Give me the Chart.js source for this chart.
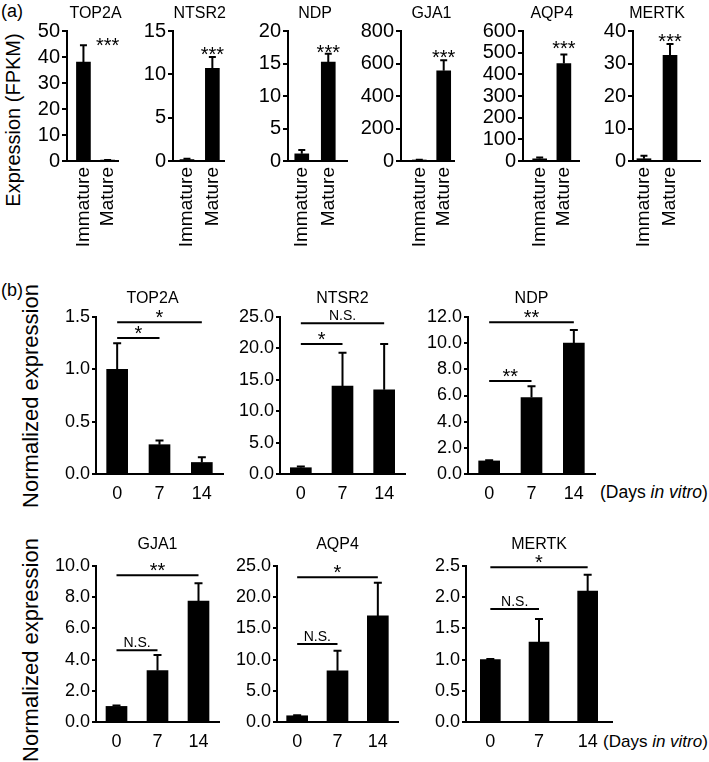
<!DOCTYPE html>
<html>
<head>
<meta charset="utf-8">
<script src="https://cdn.jsdelivr.net/npm/chart.js@4.4.1/dist/chart.umd.min.js"></script>
<style>
html,body{margin:0;padding:0;background:#fff;}
body{position:relative;width:709px;height:762px;overflow:hidden;font-family:"Liberation Sans",Arial,Helvetica,sans-serif;color:#000;}
canvas{position:absolute;}
.t{position:absolute;white-space:nowrap;line-height:1;color:#000;}
.r{transform:translate(-50%,-50%) rotate(-90deg);}
</style>
</head>
<body>
<div class="t" style="left:1px;top:2px;font-size:18px">(a)</div>
<div class="t" style="left:1px;top:281px;font-size:18px">(b)</div>
<div class="t r" style="left:13px;top:120px;font-size:20px">Expression (FPKM)</div>
<div class="t r" style="left:31px;top:396px;font-size:22px">Normalized expression</div>
<div class="t r" style="left:31px;top:650px;font-size:22px">Normalized expression</div>
<div class="t" style="left:600px;top:484px;font-size:17.5px">(Days <i>in vitro</i>)</div>
<div class="t" style="left:603px;top:733px;font-size:17px">(Days <i>in vitro</i>)</div>
<script>
// ---------- Panel (a): expression (FPKM) ----------
const aGenes  = ['TOP2A', 'NTSR2', 'NDP', 'GJA1', 'AQP4', 'MERTK'];
const aGroups = ['Immature', 'Mature'];
const aMeans  = [[38.0, 0.3], [0.15, 10.7], [1.1, 15.2], [5, 555], [10, 450], [0.7, 32.5]];
const aErrs   = [[6.5, 0.1], [0.1, 1.3], [0.6, 1.3], [3, 65], [6, 42], [0.9, 3.5]];
const aYMax   = [50, 15, 20, 800, 600, 40];
const aYStep  = [10, 5, 5, 200, 100, 10];
const aStarY  = [46.5, 12.9, 17.4, 665, 540, 38.2];
const aStarText = ['***', '***', '***', '***', '***', '***'];

// ---------- Panel (b): normalized expression ----------
const bGenes = ['TOP2A', 'NTSR2', 'NDP', 'GJA1', 'AQP4', 'MERTK'];
const bDays  = ['0', '7', '14'];
const bMeans = [[1.0, 0.28, 0.11], [1.0, 14.0, 13.4], [1.0, 5.85, 10.0], [1.0, 3.3, 7.75], [1.0, 8.2, 17.0], [1.0, 1.28, 2.1]];
const bErrs  = [[0.25, 0.04, 0.05], [0.2, 5.3, 7.3], [0.05, 0.85, 1.0], [0.05, 1.0, 1.15], [0.1, 3.2, 5.3], [0.01, 0.37, 0.26]];
const bYMax  = [1.5, 25, 12, 10, 25, 2.5];
const bYStep = [0.5, 5, 2, 2, 5, 0.5];
// [from, to, height, label]
const bSig = [
  [[0, 1, 1.30, '*'], [0, 2, 1.45, '*']],
  [[0, 1, 20.7, '*'], [0, 2, 24.0, 'N.S.']],
  [[0, 1, 7.1, '**'], [0, 2, 11.6, '**']],
  [[0, 1, 4.6, 'N.S.'], [0, 2, 9.4, '**']],
  [[0, 1, 12.5, 'N.S.'], [0, 2, 23.2, '*']],
  [[0, 1, 1.81, 'N.S.'], [0, 2, 2.48, '*']]
];

// ---------- layout ----------
const FAM = '"Liberation Sans", Arial, Helvetica, sans-serif';
const aFrame  = [[67, 127], [173, 232], [288, 349], [401, 463], [523, 584], [633, 700]];
const aXRange = [[-0.68, 1.46], [-0.55, 1.48], [-0.52, 1.74], [-0.75, 1.46], [-0.69, 1.65], [-0.42, 2.15]];
const bFrame  = [[96, 223], [280, 405], [468, 595], [96, 219], [277, 398], [466, 612]];
const bRows   = [[317, 474], [317, 474], [317, 474], [566, 722], [566, 722], [566, 722]];
const bTitleGap = [18, 18, 18, 21, 21, 21];
const bTitleDx  = [-7, 0, 0, 0, 0, 0];

function makeExtras(p) {
  return {
    id: 'extras',
    afterDatasetsDraw(chart) {
      const ctx = chart.ctx, area = chart.chartArea, ys = chart.scales.y;
      const bars = chart.getDatasetMeta(0).data;
      ctx.save();
      ctx.strokeStyle = '#000'; ctx.fillStyle = '#000'; ctx.lineCap = 'butt';
      ctx.lineWidth = p.errW;
      p.means.forEach((m, i) => {
        const px = bars[i].x, y0 = ys.getPixelForValue(m), y1 = ys.getPixelForValue(m + p.errs[i]);
        ctx.beginPath();
        ctx.moveTo(px, y0); ctx.lineTo(px, y1);
        ctx.moveTo(px - p.cap / 2, y1); ctx.lineTo(px + p.cap / 2, y1);
        ctx.stroke();
      });
      ctx.textAlign = 'center';
      ctx.font = p.titleSize + 'px ' + FAM; ctx.textBaseline = 'middle';
      const mid = (bars[0].x + bars[bars.length - 1].x) / 2 + (p.titleDx || 0);
      ctx.fillText(p.title, mid, area.top - p.titleGap);
      if (p.star != null) {
        ctx.font = p.starSize + 'px ' + FAM; ctx.textBaseline = 'alphabetic';
        ctx.fillText(p.starText, bars[1].x, ys.getPixelForValue(p.star) + p.starSize * 0.57);
      }
      (p.sig || []).forEach(s => {
        const x0 = bars[s[0]].x, x1 = bars[s[1]].x, py = ys.getPixelForValue(s[2]);
        ctx.lineWidth = 2;
        ctx.beginPath(); ctx.moveTo(x0, py); ctx.lineTo(x1, py); ctx.stroke();
        const isStar = s[3].indexOf('*') >= 0;
        ctx.font = (isStar ? p.starSize : p.nsSize) + 'px ' + FAM;
        ctx.textBaseline = 'alphabetic';
        ctx.fillText(s[3], (x0 + x1) / 2, isStar ? py + 2 : py - 3);
      });
      ctx.restore();
    }
  };
}

function makeChart(p) {
  const W = p.yW + (p.R - p.L) + p.padR;
  const H = p.padT + (p.bottom - p.top) + p.xH;
  const cv = document.createElement('canvas');
  cv.width = W; cv.height = H;
  cv.style.left = (p.L - p.yW) + 'px'; cv.style.top = (p.top - p.padT) + 'px';
  cv.style.width = W + 'px'; cv.style.height = H + 'px';
  document.body.appendChild(cv);
  const linear = !!p.xRange;
  const data = linear ? p.means.map((v, i) => ({ x: i, y: v })) : p.means.slice();
  const xScale = linear ? {
    type: 'linear', min: p.xRange[0], max: p.xRange[1], offset: false,
    afterBuildTicks(s) { s.ticks = p.cats.map((c, i) => ({ value: i })); },
    ticks: { autoSkip: false, minRotation: 90, maxRotation: 90, padding: p.xPad, color: '#000',
             font: { family: FAM, size: p.xFont }, callback: (v) => p.cats[v] }
  } : {
    type: 'category', offset: true,
    ticks: { autoSkip: false, minRotation: 0, maxRotation: 0, padding: p.xPad, color: '#000',
             font: { family: FAM, size: p.xFont } }
  };
  Object.assign(xScale, {
    grid: { display: false, drawTicks: false, offset: !linear },
    border: { display: true, color: '#000', width: 2 },
    afterFit(s) { s.height = p.xH; }
  });
  new Chart(cv, {
    type: 'bar',
    data: { labels: linear ? [] : p.cats, datasets: [{ data, backgroundColor: '#000', borderWidth: 0, barThickness: p.barW }] },
    options: {
      responsive: false, animation: false, devicePixelRatio: 1,
      layout: { padding: { top: p.padT, right: p.padR, left: 0, bottom: 0 } },
      plugins: { legend: { display: false }, tooltip: { enabled: false }, title: { display: false } },
      scales: {
        x: xScale,
        y: {
          min: 0, max: p.yMax,
          ticks: { stepSize: p.yStep, autoSkip: false, padding: p.yPad, color: '#000', font: { family: FAM, size: p.yFont }, callback: p.fmt },
          grid: { display: true, drawOnChartArea: false, drawTicks: true, tickLength: p.tickLen, color: '#000', lineWidth: 2 },
          border: { display: true, color: '#000', width: 2 },
          afterFit(s) { s.width = p.yW; }
        }
      }
    },
    plugins: [makeExtras(p)]
  });
}

// panel (a)
aGenes.forEach((g, k) => {
  makeChart({
    L: aFrame[k][0], R: aFrame[k][1], top: 31, bottom: 161,
    yW: 52, xH: 98, padT: 31, padR: 12,
    xRange: aXRange[k], cats: aGroups, means: aMeans[k], errs: aErrs[k],
    yMax: aYMax[k], yStep: aYStep[k], fmt: (v) => String(v),
    yFont: 20, yPad: 2, tickLen: 5, xFont: 19, xPad: 6,
    barW: 14, errW: 2, cap: 7,
    title: g, titleSize: 16, titleGap: 17,
    star: aStarY[k], starText: aStarText[k], starSize: 20
  });
});

// panel (b)
bGenes.forEach((g, k) => {
  makeChart({
    L: bFrame[k][0], R: bFrame[k][1], top: bRows[k][0], bottom: bRows[k][1],
    yW: 55, xH: 34, padT: 34, padR: 14,
    cats: bDays, means: bMeans[k], errs: bErrs[k],
    yMax: bYMax[k], yStep: bYStep[k], fmt: (v) => Number(v).toFixed(1),
    yFont: 18, yPad: 2, tickLen: 4, xFont: 18, xPad: 9,
    barW: k === 5 ? 20 : 21, errW: 2, cap: 8,
    title: g, titleSize: 16, titleGap: bTitleGap[k], titleDx: bTitleDx[k],
    sig: bSig[k], starSize: 20, nsSize: 14
  });
});
</script>
</body>
</html>
